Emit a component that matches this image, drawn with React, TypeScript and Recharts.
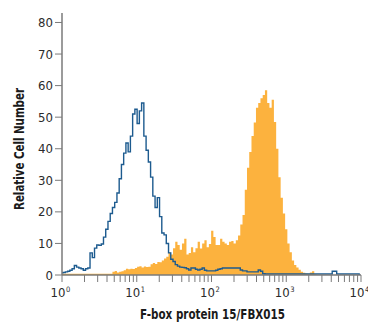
import React from 'react';
import { ComposedChart, Area, Line, XAxis, YAxis, Label } from 'recharts';

// Histogram channels: evenly spaced in log10 (decades), step of 0.03 decade
const CHANNEL_STEP = 0.03;

// Isotype control (blue outline) – relative cell number per channel
const BLUE_COUNTS = [
  0.7, 0.8, 1.0, 1.2, 1.5, 2.0, 3.0, 2.5, 2.2, 2.0, 1.5, 2.0, 2.2,
  7.0, 5.5, 8.5, 9.5, 9.4, 9.8, 12, 14.5, 17, 19.5, 21.4, 23, 26,
  30.5, 35, 38.6, 41.8, 39, 44, 51, 52.5, 48, 52, 54.5, 44, 39.5,
  35.8, 31, 25, 21.4, 24.5, 18.5, 13.3, 12.7, 10, 7, 5, 4.3, 3.3,
  2.8, 2.5, 2.4, 2.3, 2.0, 1.6, 2.2, 2.2, 1.8, 1.6, 1.8, 2.2, 1.5,
  1.3, 1.3, 1.3, 1.3, 1.5, 1.8, 2.0, 2.2, 2.2, 2.2, 2.2, 2.2, 2.2,
  2.2, 2.2, 1.6, 1.3, 1.3, 1.0, 1.0, 1.0, 1.0, 1.0, 1.6, 1.2, 0.4,
  0.3, 0.3, 0.3, 0.3, 0.3, 0.3, 0.3, 0.3, 0.3, 0.3,
  0.3, 0.3, 0.3, 0.3, 0.3, 0.3, 0.3, 0.3, 0.3, 0.3,
  0.3, 0.3, 0.3, 0.3, 0.3, 0.3, 0.3, 0.3, 0.3, 0.3,
  1.2, 1.2,
  0.3, 0.3, 0.3, 0.3, 0.3, 0.3, 0.3, 0.3, 0.3, 0.3,
  0,
];

// F-box protein 15 stained cells (orange filled)
const ORANGE_COUNTS = [
  0.4, 0.4, 0.4, 0.4, 0.4, 0.4, 0.4, 0.4, 0.4, 0.4, 0.4, 0.4,
  0.4, 0.4, 0.4, 0.4, 0.4, 0.4, 0.4, 0.4, 0.4, 0.4, 0.4,
  1.0, 1.3, 0.8, 1.0, 1.2, 1.5, 2.0, 1.8, 2.0, 1.9, 2.2, 2.6, 2.8,
  2.4, 2.7, 2.5, 2.6, 3.4, 3.8, 3.5, 4.1, 4.0, 4.6, 5.2, 5.8, 7.2,
  6.5, 8.5, 10.5, 9.5, 8, 10, 11.5, 6.5, 7, 8.8, 7.2, 8.5, 10.5,
  8.4, 10, 11, 8.8, 9.8, 14, 12, 9.5, 9.5, 11.5, 10.5, 10, 9.5,
  10.5, 10.8, 10, 11, 12.5, 16, 19, 27, 34, 39, 44, 48.3, 53,
  54.5, 56, 57, 58.5, 54.5, 53, 55.5, 48.5, 40, 31, 24.5, 19.5, 14.5,
  10, 7.2, 4.6, 3.2, 2.4, 1.7, 1.0, 0.7, 0.5, 0.4, 0.8, 1.2, 0.2,
  0, 0, 0, 0, 0, 0, 0, 0, 0, 0, 0, 0, 0, 0, 0, 0, 0, 0, 0, 0,
];

const X_MAJOR = [0, 1, 2, 3, 4];
const X_EXPONENT_LABELS = ['0', '1', '2', '3', '4'];
const X_MINOR_MULTIPLIERS = [2, 3, 4, 5, 6, 7, 8, 9];
const Y_TICKS = [0, 10, 20, 30, 40, 50, 60, 70, 80];

const X_TITLE = 'F-box protein 15/FBX015';
const Y_TITLE = 'Relative Cell Number';

const FONT = '"Liberation Sans Narrow", "Arial Narrow", "DejaVu Sans Condensed", sans-serif';

const data = BLUE_COUNTS.map((b, i) => ({
  x: i * CHANNEL_STEP,
  blue: b,
  orange: ORANGE_COUNTS[i] ?? 0,
}));

const xTicks: number[] = [];
X_MAJOR.forEach((d, i) => {
  xTicks.push(d);
  if (i < X_MAJOR.length - 1) {
    X_MINOR_MULTIPLIERS.forEach((m) => xTicks.push(d + Math.log10(m)));
  }
});

const XTick = (props: any) => {
  const { x, y, payload } = props;
  const idx = X_MAJOR.indexOf(payload.value);
  if (idx < 0) return <g />;
  return (
    <g>
      <text x={x + 3.5} y={y} dy={13} textAnchor="end" fontFamily={FONT} fontSize={13} fill="#2b2b2b">
        10
      </text>
      <text x={x + 4} y={y} dy={8} textAnchor="start" fontFamily={FONT} fontSize={7.5} fill="#2b2b2b">
        {X_EXPONENT_LABELS[idx]}
      </text>
    </g>
  );
};

const YTick = (props: any) => {
  const { x, y, payload } = props;
  return (
    <text x={x} y={y} dy={4.5} textAnchor="end" fontFamily={FONT} fontSize={13} fill="#2b2b2b">
      {payload.value}
    </text>
  );
};

const YTitle = () => (
  <text
    x={19}
    y={149}
    transform="rotate(-90, 19, 149)"
    textAnchor="middle"
    dominantBaseline="central"
    fontFamily={FONT}
    fontWeight="bold"
    fontSize={14.5}
    fill="#1a1a1a"
    textLength={122}
    lengthAdjust="spacingAndGlyphs"
  >
    {Y_TITLE}
  </text>
);

const XTitle = () => (
  <text
    x={212.5}
    y={319}
    textAnchor="middle"
    fontFamily={FONT}
    fontWeight="bold"
    fontSize={14.5}
    fill="#1a1a1a"
    textLength={145}
    lengthAdjust="spacingAndGlyphs"
  >
    {X_TITLE}
  </text>
);

export default function App() {
  return (
    <div style={{ position: 'absolute', left: 0, top: 0, width: 368, height: 323, background: '#fff' }}>
      <ComposedChart
        width={368}
        height={323}
        data={data}
        margin={{ top: 13, right: 7, bottom: 0, left: 0 }}
      >
        <XAxis
          dataKey="x"
          type="number"
          domain={[0, 4]}
          ticks={xTicks}
          interval={0}
          allowDataOverflow
          height={48}
          tickSize={7}
          tickMargin={2}
          stroke="#7a7a7a"
          strokeWidth={1.5}
          tickLine={{ stroke: '#7a7a7a', strokeWidth: 1 }}
          tick={<XTick />}
        >
          <Label content={<XTitle />} />
        </XAxis>
        <YAxis
          type="number"
          domain={[0, 83]}
          ticks={Y_TICKS}
          interval={0}
          allowDataOverflow
          width={62}
          tickSize={7}
          tickMargin={2}
          stroke="#7a7a7a"
          strokeWidth={1.5}
          tickLine={{ stroke: '#7a7a7a', strokeWidth: 1 }}
          tick={<YTick />}
        >
          <Label content={<YTitle />} />
        </YAxis>
        <Area
          type="step"
          dataKey="orange"
          stroke="none"
          fill="#fcb23e"
          fillOpacity={1}
          isAnimationActive={false}
          dot={false}
          activeDot={false}
        />
        <Line
          type="step"
          dataKey="blue"
          stroke="#1d5b8f"
          strokeWidth={1.4}
          dot={false}
          activeDot={false}
          isAnimationActive={false}
        />
      </ComposedChart>
    </div>
  );
}
